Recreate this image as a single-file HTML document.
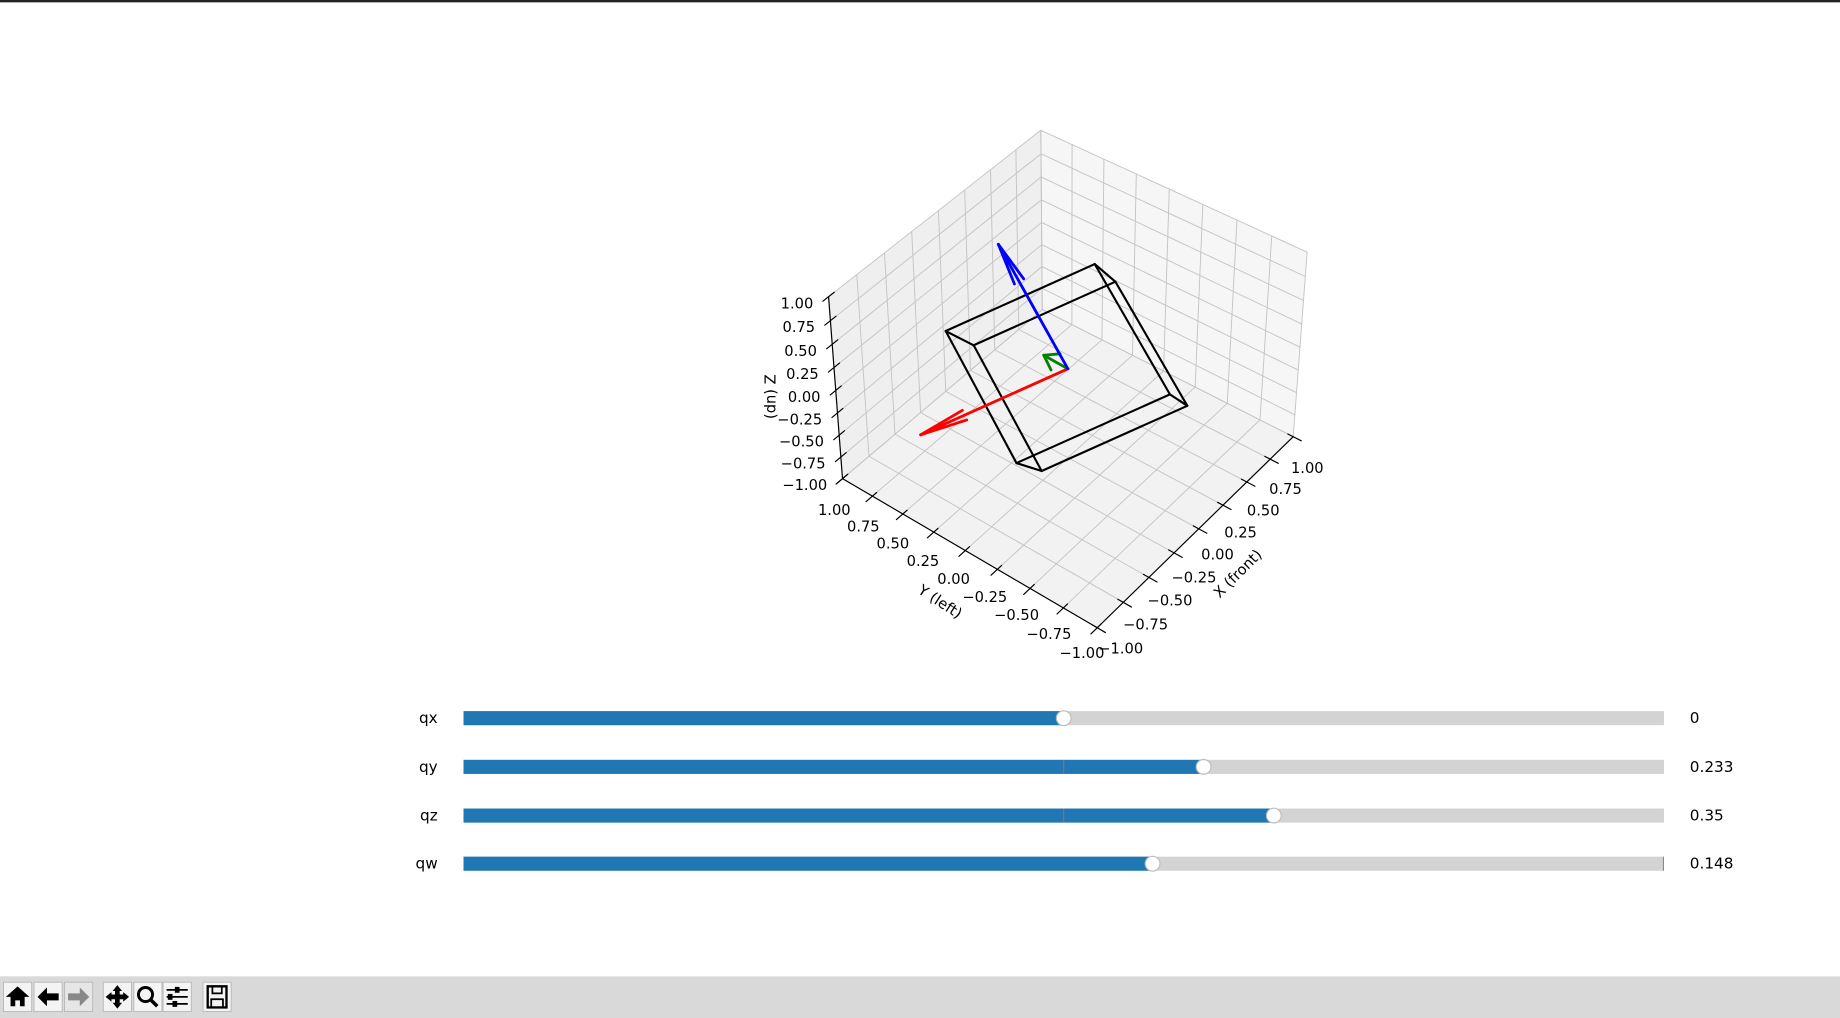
<!DOCTYPE html>
<html><head><meta charset="utf-8"><style>
html,body{margin:0;padding:0;background:#fff;width:1840px;height:1018px;overflow:hidden}
svg{display:block}
text{font-family:"DejaVu Sans","Liberation Sans",sans-serif;fill:#000}
</style></head><body>
<svg id="fig" width="1840" height="1018" viewBox="0 0 1568 867.5" preserveAspectRatio="none" xmlns="http://www.w3.org/2000/svg">
<rect x="0" y="0" width="1568" height="2" fill="#222"/>
<g id="axes3d"></g>
<g id="sliders"></g>
<g id="toolbar">
<rect x="0" y="832" width="1568" height="36" fill="#d9d9d9"/>
</g>
</svg>
<script>
const ticks = [-1, -0.75, -0.5, -0.25, 0, 0.25, 0.5, 0.75, 1];
const tickLabels = ["\u22121.00","\u22120.75","\u22120.50","\u22120.25","0.00","0.25","0.50","0.75","1.00"];
const sliderNames = ["qx","qy","qz","qw"];
const sliderValues = [0, 0.233, 0.35, 0.148];
const sliderLabels = ["0","0.233","0.35","0.148"];
const sliderInit = [0, 0, 0, 1];
const boxHalf = [0.5, 0.5, 0.5];
const arrowLen = 1;

const NS = "http://www.w3.org/2000/svg";
function mk(tag, attrs, parent){const e=document.createElementNS(NS,tag);for(const k in attrs)e.setAttribute(k,attrs[k]);parent.appendChild(e);return e;}

const C=[910,314.3], AX=[86.9,-76], AY=[-110.9,-57.6], AZ=[0,-78];
function P(x,y,z){const s=1/(1+0.0355*(x+y)-0.03*z);return [C[0]+s*(x*AX[0]+y*AY[0]+z*AZ[0]), C[1]+s*(x*AX[1]+y*AY[1]+z*AZ[1])];}
function line(g,a,b,st,w,name){const l=mk("line",{x1:a[0],y1:a[1],x2:b[0],y2:b[1],stroke:st,"stroke-width":w,"stroke-linecap":"round"},g);


return l;}
function poly(g,pts,fill,name){const p=mk("polygon",{points:pts.map(q=>q.join(",")).join(" "),fill:fill},g);

}

const ax=document.getElementById("axes3d");
poly(ax,[P(-1,1,-1),P(1,1,-1),P(1,1,1),P(-1,1,1)],"#efefef","pane-left-wall");
poly(ax,[P(1,-1,-1),P(1,1,-1),P(1,1,1),P(1,-1,1)],"#f6f6f6","pane-right-wall");
poly(ax,[P(-1,-1,-1),P(1,-1,-1),P(1,1,-1),P(-1,1,-1)],"#f2f2f2","pane-floor");
const GC="#c4c4c4";
ticks.forEach(t=>{
  line(ax,P(t,1,-1),P(t,1,1),GC,0.8,"gridline-leftwall-x");
  line(ax,P(-1,1,t),P(1,1,t),GC,0.8,"gridline-leftwall-z");
  line(ax,P(1,t,-1),P(1,t,1),GC,0.8,"gridline-rightwall-y");
  line(ax,P(1,-1,t),P(1,1,t),GC,0.8,"gridline-rightwall-z");
  line(ax,P(t,-1,-1),P(t,1,-1),GC,0.8,"gridline-floor-x");
  line(ax,P(-1,t,-1),P(1,t,-1),GC,0.8,"gridline-floor-y");
});
line(ax,P(-1,1,-1),P(-1,1,1),"#000",1,"z-axis-line");
line(ax,P(-1,-1,-1),P(1,-1,-1),"#000",1,"x-axis-line");
line(ax,P(-1,-1,-1),P(-1,1,-1),"#000",1,"y-axis-line");
function txt(g,x,y,s,anchor,name,rot,size){const t=mk("text",{x:x,y:y,"font-size":size||12.5,"text-anchor":anchor||"middle","dominant-baseline":"central"},g);
if(rot)t.setAttribute("transform",`rotate(${rot} ${x} ${y})`);t.textContent=s;


return t;}
ticks.forEach((t,i)=>{
  line(ax,P(-1.05,1,t),P(-0.95,1,t),"#000",1,"z-tick");
  const pz=P(-1,1,t); txt(ax,pz[0]-13,pz[1]+6,tickLabels[i],"end","z-tick-label");
  line(ax,P(t,-1.06,-1),P(t,-0.96,-1),"#000",1,"x-tick");
  const px=P(t,-1,-1); const f=(t+1)/2;
  txt(ax,px[0]+20-8*f,px[1]+18+9*f,tickLabels[i],"middle","x-tick-label");
  line(ax,P(-1.06,t,-1),P(-0.96,t,-1),"#000",1,"y-tick");
  const py=P(-1,t,-1); const g=(t+1)/2;
  txt(ax,py[0]-13+6*g,py[1]+22+5*g,tickLabels[i],"middle","y-tick-label");
});
txt(ax,657,338,"(dn) Z","middle","z-axis-title",-90);
txt(ax,801,513,"Y (left)","middle","y-axis-title",33);
txt(ax,1055,489,"X (front)","middle","x-axis-title",-45);

let [qx,qy,qz,qw]=sliderValues; const n=Math.hypot(qx,qy,qz,qw)||1; qx/=n;qy/=n;qz/=n;qw/=n;
const R=[[1-2*(qy*qy+qz*qz),2*(qx*qy-qw*qz),2*(qx*qz+qw*qy)],
         [2*(qx*qy+qw*qz),1-2*(qx*qx+qz*qz),2*(qy*qz-qw*qx)],
         [2*(qx*qz-qw*qy),2*(qy*qz+qw*qx),1-2*(qx*qx+qy*qy)]];
function rot(v){return [0,1,2].map(i=>R[i][0]*v[0]+R[i][1]*v[1]+R[i][2]*v[2]);}
const corners=[];
for(const sx of [-1,1])for(const sy of [-1,1])for(const sz of [-1,1])corners.push([sx,sy,sz]);
for(let i=0;i<8;i++)for(let j=i+1;j<8;j++){
  let d=0;for(let k=0;k<3;k++)if(corners[i][k]!==corners[j][k])d++;
  if(d===1){const a=rot(corners[i].map((s,k)=>s*boxHalf[k])),b=rot(corners[j].map((s,k)=>s*boxHalf[k]));
    line(ax,P(...a),P(...b),"#000",1.8,"box-edge");}
}
const cols=["#ff0000","#008000","#0000ff"], names=["x-arrow","y-arrow","z-arrow"];
[0,1,2].forEach(k=>{
  const e=[0,0,0];e[k]=arrowLen;const v=rot(e);
  const o=P(0,0,0),tip=P(...v);
  line(ax,o,tip,cols[k],2.4,names[k]);
  const dx=o[0]-tip[0],dy=o[1]-tip[1],Ls=Math.hypot(dx,dy),ang=Math.atan2(dy,dx);
  const L=Math.max(0.3*Ls,14), da0=Math.min(0.6,15/Ls);
  [-da0,da0].forEach(da=>{line(ax,tip,[tip[0]+L*Math.cos(ang+da),tip[1]+L*Math.sin(ang+da)],cols[k],2.4,names[k]+"-head");});
});

const sg=document.getElementById("sliders");
const X0=395,X1=1418,rowsY=[612,653.5,695,736];
function vx(v){return X0+(v+1)/2*(X1-X0);}
sliderNames.forEach((nm,i)=>{
  const y=rowsY[i];
  const g=mk("g",{},sg);
  
  
  txt(g,373,y,nm,"end",nm+"-label",0,13);
  const tr=mk("rect",{x:X0,y:y-6,width:X1-X0,height:12,fill:"#d3d3d3"},g);
  
  
  const hx=vx(sliderValues[i]);
  const fl=mk("rect",{x:X0,y:y-6,width:hx-X0,height:12,fill:"#1f77b4"},g);
  
  
  const ix=vx(sliderInit[i]);
  const il=mk("line",{x1:Math.min(ix,X1-0.5),y1:y-6,x2:Math.min(ix,X1-0.5),y2:y+6,stroke:"#e05060","stroke-width":0.8},g);
  
  
  const h=mk("circle",{cx:hx,cy:y,r:6.3,fill:"#fff",stroke:"#bdbdbd","stroke-width":1},g);
  
  
  txt(g,1440,y,sliderLabels[i],"start",nm+"-value",0,13);
});

const tb=document.getElementById("toolbar");
const btns=[["home-button",3],["back-button",29],["forward-button",55],["pan-button",88],["zoom-button",114],["configure-button",139],["save-button",173]];
btns.forEach(([nm,x])=>{
  const b=mk("g",{},tb);
  
  
  mk("rect",{x:x,y:837,width:24,height:25,fill:nm==="forward-button"?"#e6e6e6":"#f4f4f4",stroke:"#b8b8b8","stroke-width":0.8},b);
  const cx=x+12,cy=849.5;
  if(nm==="home-button"){mk("polygon",{points:`${cx},${cy-9} ${cx+10},${cy} ${cx+6},${cy} ${cx+6},${cy+8} ${cx+2},${cy+8} ${cx+2},${cy+3} ${cx-2},${cy+3} ${cx-2},${cy+8} ${cx-6},${cy+8} ${cx-6},${cy} ${cx-10},${cy}`,fill:"#000"},b);}
  if(nm==="back-button"){mk("polygon",{points:`${cx-9},${cy} ${cx-1},${cy-8} ${cx-1},${cy-3} ${cx+9},${cy-3} ${cx+9},${cy+3} ${cx-1},${cy+3} ${cx-1},${cy+8}`,fill:"#000"},b);}
  if(nm==="forward-button"){mk("polygon",{points:`${cx+9},${cy} ${cx+1},${cy-8} ${cx+1},${cy-3} ${cx-9},${cy-3} ${cx-9},${cy+3} ${cx+1},${cy+3} ${cx+1},${cy+8}`,fill:"#888"},b);}
  if(nm==="pan-button"){mk("path",{d:`M${cx},${cy-10}L${cx+4},${cy-5}H${cx+2}V${cy-2}H${cx+5}V${cy-4}L${cx+10},${cy}L${cx+5},${cy+4}V${cy+2}H${cx+2}V${cy+5}H${cx+4}L${cx},${cy+10}L${cx-4},${cy+5}H${cx-2}V${cy+2}H${cx-5}V${cy+4}L${cx-10},${cy}L${cx-5},${cy-4}V${cy-2}H${cx-2}V${cy-5}H${cx-4}Z`,fill:"#000"},b);}
  if(nm==="zoom-button"){mk("circle",{cx:cx-2,cy:cy-2,r:6,fill:"none",stroke:"#000","stroke-width":2.5},b);mk("line",{x1:cx+2,y1:cy+2,x2:cx+8,y2:cy+8,stroke:"#000","stroke-width":3},b);}
  if(nm==="configure-button"){[-6,0,6].forEach((d,j)=>{mk("line",{x1:cx-9,y1:cy+d,x2:cx+9,y2:cy+d,stroke:"#000","stroke-width":1.5},b);mk("rect",{x:cx-4+[2,-4,0][j],y:cy+d-2.5,width:4,height:5,fill:"#000"},b);});}
  if(nm==="save-button"){mk("rect",{x:cx-8,y:cy-9,width:16,height:18,fill:"none",stroke:"#000","stroke-width":2},b);mk("rect",{x:cx-4,y:cy-9,width:8,height:6,fill:"none",stroke:"#000","stroke-width":1.5},b);mk("rect",{x:cx-5,y:cy+2,width:10,height:7,fill:"none",stroke:"#000","stroke-width":1.5},b);}
});
</script>
</body></html>
